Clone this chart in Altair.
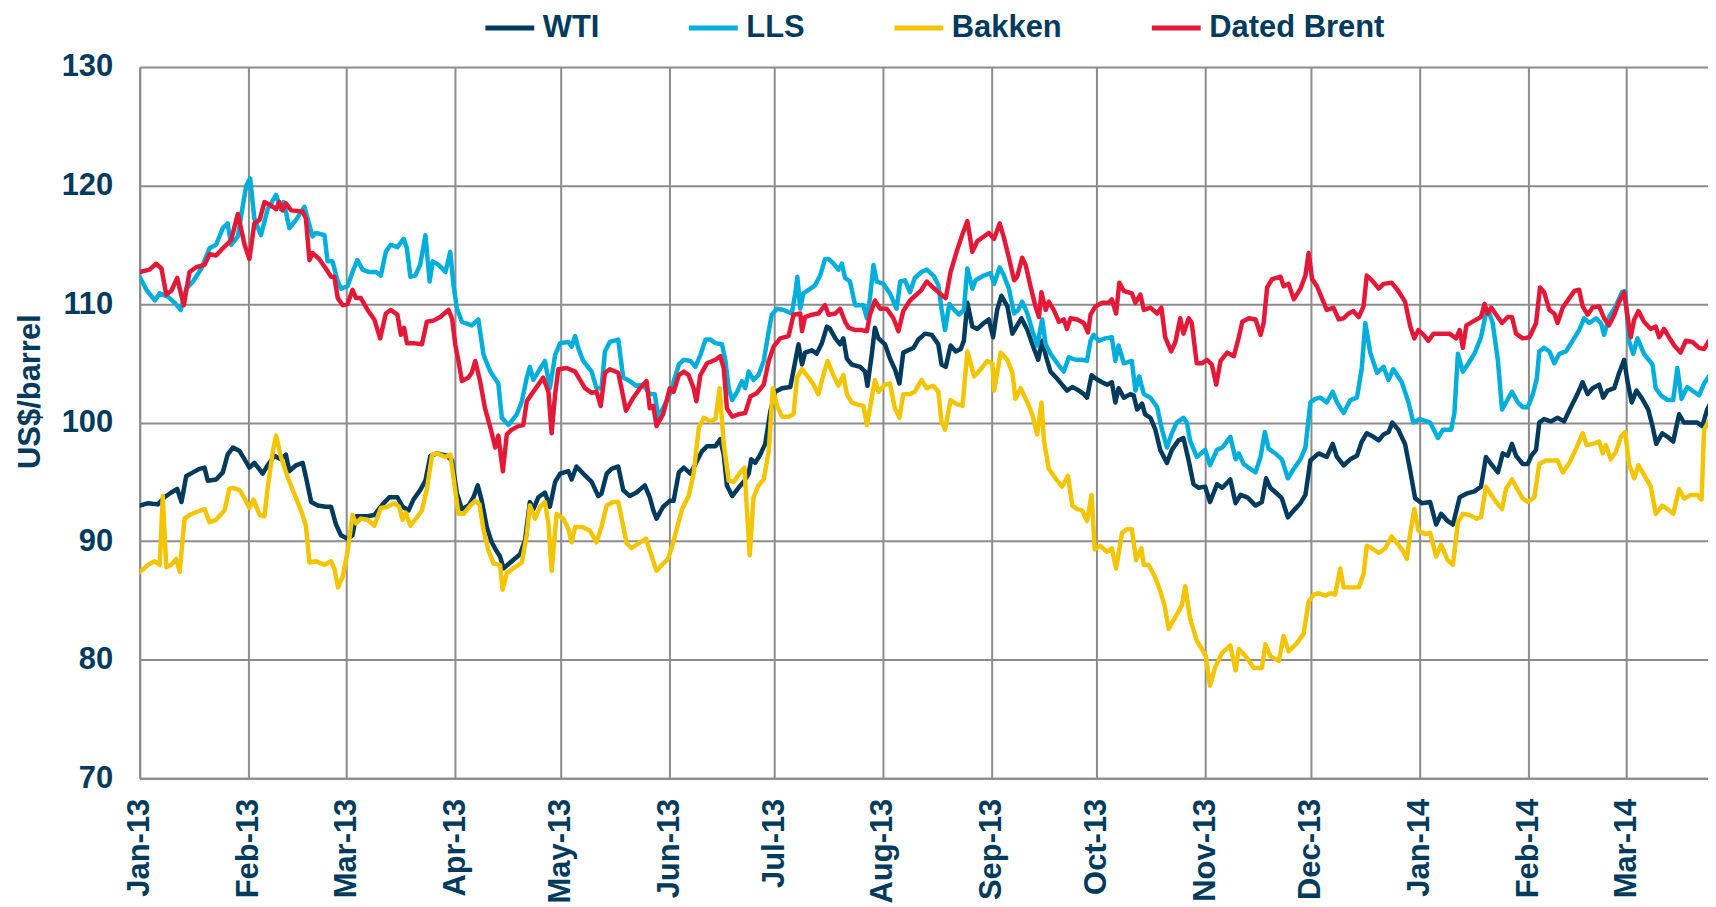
import altair as alt
import pandas as pd

START = pd.Timestamp("2013-01-01")

# day offsets from 1 Jan 2013 and prices (US$/barrel)
wti_day = [0, 2.4, 5.2, 7.1, 9.0, 10.7, 11.9, 13.3, 15.2, 17.1, 18.5, 19.4, 21.8, 23.7, 25.1, 26.6, 28.5, 29.9,
           31.3, 32.7, 35.1, 36.5, 38.4, 40.3, 41.7, 42.7, 44.6, 46.5, 47.4, 48.9, 50.8, 53.1, 54.6, 56.0, 57.4,
           59.3, 60.7, 61.7, 65.0, 66.9, 69.3, 71.2, 73.5, 75.0,
           76.7, 78.1, 80.0, 81.5, 82.9, 84.8, 87.6, 89.1, 90.5, 91.9, 93.8, 95.2, 96.4, 97.6, 99.0, 100.4, 101.9,
           102.8, 103.8, 105.7, 108.5, 109.9, 111.3, 112.3, 113.7, 115.6, 117.0, 118.5, 119.9, 122.3, 123.2, 124.6,
           126.5, 128.9, 130.8, 131.7, 133.2, 134.6, 136.5, 137.9, 139.8, 141.7, 144.1, 145.5, 146.5, 147.4, 149.3,
           151.2,
           152.3, 153.8, 155.2, 157.1, 158.5, 160.4, 161.8, 164.2, 165.6, 166.6, 167.5, 169.0, 170.8, 172.3, 173.7,
           174.4, 175.6, 177.0, 178.4, 179.9, 181.3, 183.2, 185.6, 187.0, 187.9, 188.9, 189.8, 191.7, 193.1, 194.6,
           196.0, 196.9, 198.4, 199.8, 200.7, 201.7, 203.1, 205.5, 206.9, 207.6, 208.8, 209.7, 210.7, 212.6, 214.0,
           215.4, 216.7, 217.8, 219.2, 220.7, 222.1, 224.0, 225.9, 227.8, 228.7,
           229.9, 231.3, 232.8, 234.2, 235.1, 236.1, 237.5, 238.9, 240.8, 242.2, 243.4, 244.6, 245.8, 247.5, 248.9,
           250.3, 251.5, 253.2, 255.0, 256.3, 257.4, 258.6, 259.8, 261.7, 263.1, 264.5, 266.0, 267.9, 269.3, 270.2,
           271.5, 272.8, 274.5, 275.9, 277.3, 278.3, 279.2, 280.7, 282.6, 283.5, 284.5, 285.9, 286.8, 288.3, 289.7,
           291.1, 293.0, 294.4, 296.3, 297.7, 299.2, 300.6, 302.0, 303.9, 305.3,
           307.3, 308.8, 311.1, 312.6, 314.0, 315.9, 318.3, 320.1, 321.3, 322.5, 324.4, 325.8, 327.5, 329.2, 331.1,
           332.5, 333.9, 336.3, 338.6, 340.3, 341.5, 343.4, 345.3, 347.2, 348.6, 350.0, 351.9, 353.4, 354.8, 356.2,
           357.3, 359.0, 360.9, 362.4, 363.8, 365.7, 368.1,
           369.8, 371.2, 373.1, 374.6, 376.5, 378.4, 380.7, 382.6, 384.0, 385.5, 387.4, 388.8, 390.2, 391.4, 392.6,
           394.5, 395.9, 396.9, 398.3, 399.2, 400.6, 402.5, 404.4, 406.3, 408.2, 410.1, 411.6, 413.0, 414.4, 416.3,
           417.4, 418.7, 420.6, 422.0, 423.4, 424.4, 425.6, 426.9, 428.6, 430.3, 431.5, 432.6, 434.3, 435.8, 437.4,
           439.1, 440.5, 442.4, 444.3, 445.7, 447.1, 448.6]
wti_val = [93.0, 93.2, 93.1, 93.7, 94.1, 94.4, 93.3, 95.5, 95.8, 96.1, 96.2, 95.1, 95.2, 95.8, 97.3, 97.9, 97.6, 96.9,
           96.2, 96.6, 95.7, 96.4, 97.2, 96.9, 97.3, 95.9, 96.4, 96.6, 95.4, 93.3, 93.0, 92.9, 92.9, 91.4, 90.5,
           90.2, 90.5, 92.1, 92.1, 92.2, 93.1, 93.7, 93.7, 92.9,
           92.6, 93.5, 94.3, 95.1, 97.2, 97.4, 97.2, 96.8, 94.0, 92.7, 93.0, 93.7, 94.7, 93.4, 91.2, 89.9, 89.1,
           88.7, 87.7, 88.2, 88.9, 90.1, 93.3, 92.7, 93.7, 94.1, 92.9, 95.0, 95.7, 95.9, 95.2, 96.3,
           95.7, 95.0, 93.8, 94.0, 95.7, 96.1, 96.3, 94.3, 93.8, 94.1, 94.7, 93.7, 92.6, 91.9, 92.9,
           93.4,
           93.4, 95.8, 96.2, 95.7, 96.5, 97.6, 98.0, 98.0, 98.6, 97.3, 94.7, 93.8, 94.5, 95.0, 95.7,
           96.9, 96.6, 97.3, 98.2, 101.0, 102.6, 102.9, 103.0, 105.2, 106.6, 104.9, 105.9, 106.1, 105.8, 106.7,
           108.1, 107.9, 107.1, 106.6, 107.1, 105.4, 104.9, 104.7, 104.3, 103.1, 105.7, 108.0, 107.1, 106.6, 105.4,
           104.5, 103.3, 105.9, 106.1, 106.3, 107.0, 107.5, 107.4, 106.6, 104.9,
           104.7, 106.5, 106.0, 106.2, 106.9, 110.1, 108.1, 107.9, 108.4, 108.7, 107.2, 109.5, 110.7, 109.8, 107.5,
           108.2, 108.8, 107.8, 106.3, 105.3, 106.9, 105.5, 104.3, 103.7, 103.2, 102.7, 103.0, 102.7, 102.4, 102.1,
           104.0, 103.7, 103.4, 103.2, 103.4, 101.7, 102.9, 102.1, 102.4, 102.3, 101.1, 101.6, 100.7, 100.4, 99.4,
           97.7, 96.6, 97.7, 98.5, 98.7, 96.8, 94.8, 94.5, 94.6, 93.3,
           94.8, 94.5, 95.2, 93.2, 93.9, 93.7, 93.0, 93.3, 95.3, 94.5, 94.0, 93.6, 92.0, 92.6, 93.2,
           93.9, 96.8, 97.4, 97.1, 98.2, 97.1, 96.4, 96.9, 97.2, 98.4, 99.1, 98.8, 98.5, 99.0, 99.2,
           100.0, 99.4, 98.2, 95.9, 93.6, 93.2, 93.3,
           91.4, 92.3, 91.7, 91.4, 93.7, 94.0, 94.2, 94.6, 97.1, 96.5, 95.8, 97.4, 97.2, 98.2, 97.2,
           96.5, 96.5, 97.2, 97.7, 100.0, 100.3, 100.1, 100.4, 100.1, 101.3, 102.4, 103.4, 102.4, 102.9, 103.2,
           102.1, 102.7, 102.9, 104.2, 105.3, 103.4, 101.7, 102.7, 102.0, 101.1, 99.7, 98.2, 99.1, 98.8, 98.4,
           100.7, 100.0, 100.0, 100.0, 99.7, 101.1, 101.9]

lls_day = [0, 1.9, 4.3, 5.7, 8.1, 10.0, 11.7, 13.3, 15.2, 17.6, 19.9, 21.8, 23.7, 25.1, 26.1, 28.0, 29.4, 30.4,
           31.5, 32.7, 34.6, 36.5, 38.9, 40.3, 41.1, 42.7, 44.6, 47.0, 47.9, 49.3, 50.3, 52.7, 53.6, 55.0, 56.5,
           57.4, 59.3, 60.7, 62.1, 63.6, 65.5, 67.4, 68.8, 70.2, 71.6, 73.5,
           75.3, 76.2, 77.2, 78.6, 80.0, 81.5, 82.7, 83.6, 85.3, 87.2, 88.6, 89.5, 90.5, 91.9, 94.7, 96.6, 98.1,
           100.0, 102.3, 103.3, 105.2, 107.6, 109.0, 110.4, 111.3, 112.3, 113.7, 115.6, 117.0, 118.5, 119.9, 122.3,
           123.2, 124.2, 125.1, 126.5, 128.9, 130.3, 131.7, 132.7, 134.1, 136.5, 137.9, 139.8, 141.7, 143.6, 145.5,
           146.9, 147.9, 149.8, 151.2,
           153.8, 155.2, 157.1, 158.5, 159.9, 161.4, 162.8, 164.2, 166.1, 167.1, 168.0, 169.0, 170.4, 171.8, 172.7,
           173.7, 175.1, 176.5, 178.0, 179.4, 180.3, 181.8, 183.7, 186.0, 187.0, 187.6, 188.4, 189.3, 190.8, 192.7,
           194.1, 195.5, 196.5, 197.9, 199.3, 200.3, 201.2, 202.6, 204.1, 205.5, 206.4, 207.4, 208.3, 209.3, 210.2,
           212.1, 214.0, 215.9, 216.9, 218.3, 219.7, 221.1, 223.0, 224.5, 226.4, 227.8, 228.7,
           229.7, 230.9, 232.3, 233.7, 235.1, 236.1, 237.5, 238.4, 240.8, 242.7, 243.7, 245.3, 246.5, 247.9, 249.4,
           250.6, 251.7, 253.2, 254.6, 256.0, 257.4, 258.4, 259.8, 261.7, 263.6, 265.0, 266.9, 268.8, 270.2, 271.2,
           272.1, 273.5, 275.4, 277.3, 278.3, 279.2, 280.7, 283.0, 284.0, 285.1, 286.4, 288.3, 290.2, 291.6, 293.0,
           294.4, 295.8, 297.7, 298.7, 299.6, 301.5, 303.9, 305.3,
           307.3, 308.8, 311.1, 312.6, 313.5, 314.9, 316.8, 318.3, 319.7, 320.9, 322.0, 323.9, 325.8, 327.5, 329.2,
           331.1, 332.5, 333.9, 335.3, 336.8, 338.6, 340.3, 341.5, 343.4, 345.3, 347.2, 348.6, 349.6, 351.0, 352.9,
           354.8, 356.2, 357.6, 360.0, 361.9, 363.3, 365.2, 368.1,
           370.3, 371.7, 374.1, 375.0, 376.0, 377.4, 378.8, 380.7, 382.6, 384.0, 385.0, 385.9, 387.4, 388.6, 389.9,
           391.4, 393.1, 394.5, 395.9, 397.3, 398.5, 399.2, 400.6, 402.1, 403.5, 404.9, 406.8, 408.7, 410.6, 412.0,
           413.5, 415.4, 416.8, 417.7, 419.1, 421.0, 422.8, 423.7, 424.8, 426.0, 427.2, 429.1, 431.5, 432.4, 433.9,
           435.8, 437.4, 438.6, 439.8, 441.4, 443.3, 444.8, 446.2, 447.6, 448.6]
lls_val = [112.3, 111.2, 110.3, 110.9, 110.6, 110.1, 109.5, 111.3, 111.9, 113.0, 114.7, 115.0, 116.4, 116.8, 115.0,
           115.7, 118.3, 120.0,
           120.6, 117.2, 115.8, 118.0, 119.2, 118.0, 118.6, 116.4, 117.1, 118.2, 117.2, 115.7, 116.0, 115.8, 113.6,
           113.6, 111.9,
           111.3, 111.5, 112.7, 113.7, 112.9, 112.7, 112.7, 112.4, 114.4, 115.0, 114.8,
           115.5, 114.7, 112.3, 112.4, 113.3, 115.8, 111.9, 113.6, 113.3, 112.7, 114.4, 111.6, 109.6, 108.5, 108.2,
           108.7, 105.7,
           104.3, 103.3, 100.4, 99.8, 100.7, 101.8, 103.8, 104.7, 103.6, 104.3, 105.2, 102.9, 105.7, 106.7, 106.8,
           106.4, 107.3, 106.3, 105.2, 104.3, 102.9, 102.9, 106.0, 106.8, 107.0, 103.8, 103.5, 103.1, 103.2, 102.4,
           102.4, 100.4, 101.5, 102.4,
           104.9, 105.3, 105.2, 104.7, 105.7, 107.0, 107.0, 106.7, 106.6, 105.2, 102.9, 101.9, 102.6, 103.5, 102.9,
           104.3, 103.6, 104.0, 105.2, 107.7, 109.1, 109.6, 109.5, 109.2, 110.9, 112.3, 109.6, 110.9, 111.2, 111.6,
           112.4, 113.8, 113.8, 113.4, 112.9, 113.4, 112.2, 111.9, 109.9, 109.9, 109.9, 108.8, 110.5, 113.3, 111.9,
           111.7, 110.9, 109.6, 111.9, 112.0, 111.0, 112.2, 112.7, 112.9, 112.4, 111.6, 109.6,
           107.8, 110.0, 109.5, 109.1, 109.5, 113.0, 111.3, 112.0, 112.4, 112.6, 111.7, 113.1, 112.4, 111.3, 109.2,
           109.5, 110.2, 109.2, 107.8, 106.5, 108.7, 106.6, 105.8, 105.0, 104.3, 105.5, 105.3, 105.3, 105.2, 106.9,
           107.4, 106.9, 107.1, 107.2, 105.2, 106.5, 105.0, 105.2, 102.7, 103.9, 102.4, 102.1, 101.3, 99.4, 97.9,
           99.1, 100.0, 100.4, 100.0, 98.5, 97.1, 97.7, 96.4,
           97.7, 97.9, 98.8, 96.9, 97.4, 96.5, 96.1, 95.8, 97.1, 99.2, 97.8, 97.4, 96.9, 95.3, 96.1,
           96.9, 97.9, 101.7, 102.0, 102.1, 101.7, 102.6, 101.7, 100.8, 101.9, 102.1, 104.6, 108.4, 105.9, 104.2,
           104.7, 103.6, 104.5, 103.4, 101.7, 100.0, 100.3, 100.0,
           98.7, 99.4, 99.4, 100.8, 105.8, 104.3, 104.9, 105.8, 107.2, 109.2, 109.2, 108.4, 105.2, 101.1, 101.8,
           102.6, 101.7, 101.3, 101.3, 102.3, 103.7, 106.0, 106.3, 106.0, 105.0, 105.8, 106.0, 106.9, 107.8, 108.8,
           108.4, 108.8, 108.4, 107.4, 108.9, 109.8, 111.0, 111.1, 106.9, 105.8, 107.1, 105.8, 104.9, 102.9, 102.3,
           101.9, 101.9, 104.6, 102.0, 103.0, 102.6, 102.3, 103.3, 103.9, 104.3]

bakken_day = [0, 2.4, 4.3, 5.7, 6.6, 7.6, 9.0, 10.4, 11.4, 12.8, 14.2, 16.6, 18.5, 19.9, 21.8, 24.2, 25.6, 26.6,
              28.5, 29.9, 31.3, 32.5, 34.2, 35.6, 36.5, 38.0, 38.9, 40.3, 42.2, 44.1, 46.0, 47.4, 48.4, 50.3, 52.7,
              54.6, 55.5, 56.6, 57.9, 59.3, 60.7, 61.7, 63.1, 65.0, 66.9, 68.8, 70.7, 72.6, 74.0, 75.0,
              75.9, 77.2, 79.1, 80.5, 81.9, 83.4, 84.8, 87.2, 88.6, 89.5, 90.9, 92.4, 94.3, 95.7, 96.9, 98.1, 99.5,
              100.9, 102.8, 103.5, 104.7, 106.6, 109.0, 110.4, 111.3, 112.8, 114.2, 115.6, 116.6, 117.5, 118.9,
              120.8, 122.3, 123.2, 124.2, 126.1, 128.4, 130.3, 131.7, 133.2, 135.1, 136.5, 137.4, 138.9, 140.3,
              142.2, 144.4, 145.5, 147.4, 149.3, 150.7, 152.1,
              153.8, 154.7, 156.6, 158.0, 159.5, 160.9, 162.8, 164.2, 165.4, 166.6, 168.0, 169.4, 171.3, 172.5,
              173.2, 174.0, 175.1, 176.5, 178.0, 179.4, 180.6, 181.8, 183.2, 185.1, 186.5, 187.5, 188.9, 190.3,
              192.2, 193.6, 195.0, 196.2, 197.4, 199.3, 200.7, 201.7, 203.1, 205.0, 206.4, 207.4, 208.3, 209.7,
              210.7, 212.6, 214.0, 215.4, 216.7, 217.8, 219.7, 221.1, 223.0, 224.5, 226.4, 227.8, 228.7,
              229.7, 231.3, 232.8, 234.7, 236.1, 238.0, 239.9, 241.8, 243.2, 243.7, 245.6, 247.5, 248.9, 249.8,
              251.3, 253.2, 254.6, 256.0, 257.2, 257.9, 259.3, 261.2, 263.1, 264.8, 266.0, 267.4, 268.8, 270.2,
              271.5, 272.4, 274.0, 275.9, 277.3, 278.5, 280.2, 281.6, 283.0, 284.2, 285.7, 286.4, 287.8, 289.7,
              291.1, 292.3, 293.5, 295.4, 297.3, 298.2, 299.6, 301.5, 303.0, 304.1, 305.3,
              306.8, 308.8, 311.1, 312.6, 313.5, 315.4, 317.8, 320.1, 321.1, 322.5, 324.9, 326.3, 327.7, 330.1,
              332.0, 333.4, 334.9, 336.3, 338.2, 339.6, 341.0, 342.4, 343.4, 345.3, 347.7, 349.1, 350.0, 351.5,
              353.4, 355.3, 357.1, 359.0, 360.5, 361.4, 362.4, 363.6, 364.7, 366.6, 368.1,
              369.8, 371.2, 373.1, 374.6, 376.0, 377.4, 379.3, 381.2, 382.6, 384.0, 385.5, 386.9, 388.6, 389.7,
              391.4, 393.1, 394.5, 395.9, 397.8, 399.2, 401.1, 403.0, 404.4, 405.9, 407.8, 409.7, 411.6, 412.7,
              414.4, 416.3, 417.3, 418.2, 419.6, 421.0, 422.5, 423.7, 424.8, 426.3, 427.5, 429.1, 431.0, 432.4,
              434.3, 435.8, 437.4, 439.1, 440.5, 442.4, 444.3, 445.5, 446.2, 447.6, 448.6]
bakken_val = [87.4, 88.0, 88.3, 88.0, 93.8, 87.8, 88.0, 88.5, 87.4, 91.9, 92.2, 92.5, 92.7, 91.6, 91.8, 92.6, 94.4,
              94.5, 94.3, 93.6, 92.8, 93.5, 92.2, 92.1, 94.5, 97.6, 98.9, 97.1, 95.4, 94.0, 92.6, 91.3, 88.2, 88.3,
              88.0, 88.3, 87.7, 86.1, 87.0, 89.1, 92.2, 91.5, 91.9, 91.8, 91.3, 92.8, 92.9, 93.2, 92.9, 91.8,
              92.4, 91.3, 92.0, 92.6, 94.4, 97.3, 97.4, 97.1, 97.3, 95.4, 92.3, 92.3, 93.0, 93.4, 93.1, 90.9, 89.2,
              88.1, 88.0, 85.9, 87.3, 87.7, 88.2, 90.6, 93.0, 91.9, 92.9, 93.3, 91.5, 87.5, 92.3,
              91.9, 91.0, 89.9, 91.2, 91.2, 90.9, 89.9, 91.2, 93.0, 93.3, 93.3, 92.0, 89.8, 89.4,
              89.8, 90.2, 89.2, 87.5, 88.1, 88.5, 89.8,
              91.7, 92.7, 93.8, 95.7, 99.6, 100.4, 100.1, 100.3, 102.9, 98.2, 95.1, 95.0, 95.8, 96.2,
              92.6, 88.8, 93.7, 94.7, 95.2, 97.6, 102.9, 101.4, 100.5, 100.5, 100.7, 103.8, 104.5, 104.0,
              103.2, 102.4, 104.0, 105.2, 104.3, 103.1, 104.0, 102.4, 101.7, 101.5, 101.4, 99.8, 101.2, 103.6,
              102.6, 103.2, 103.3, 101.2, 100.4, 102.4, 102.4, 102.6, 103.6, 102.9, 103.1, 102.6, 100.1,
              99.4, 101.9, 101.6, 101.4, 106.0, 103.9, 104.5, 105.2, 105.0, 102.7, 105.9, 105.3, 104.2, 102.0,
              102.9, 101.7, 100.7, 99.0, 101.7, 98.5, 96.1, 95.3, 94.6, 95.5, 93.0, 92.7, 92.6, 91.7,
              93.9, 89.3, 89.6, 89.1, 89.4, 87.7, 90.7, 91.0, 91.0, 88.4, 89.4, 88.0, 88.0, 86.9,
              85.8, 84.6, 82.6, 83.6, 84.6, 86.2, 83.5, 81.6, 80.9, 80.3, 77.8,
              79.4, 80.6, 81.2, 79.1, 80.9, 80.3, 79.3, 79.3, 81.3, 80.3, 79.9, 82.0, 80.7, 81.4,
              82.2, 84.9, 85.5, 85.6, 85.4, 85.6, 85.5, 87.7, 86.1, 86.1, 86.1, 87.2, 89.6, 89.4,
              89.0, 89.4, 90.4, 89.7, 89.1, 88.5, 90.7, 92.7, 90.9, 90.6, 90.7,
              88.7, 89.7, 88.4, 88.0, 91.6, 92.3, 92.2, 91.9, 92.0, 94.6, 93.9, 93.3, 92.7, 94.4,
              95.2, 94.3, 93.6, 93.3, 93.7, 96.5, 96.8, 96.8, 96.8, 95.8, 96.6, 97.8, 99.1, 98.1,
              98.2, 98.4, 97.4, 98.1, 96.9, 97.5, 98.8, 99.2, 96.5, 95.3, 96.4, 95.6, 94.6, 92.3,
              93.0, 92.7, 92.3, 94.4, 93.6, 93.9, 93.9, 93.5, 99.4, 100.1, 100.4]

brent_day = [0, 2.8, 4.7, 6.2, 7.6, 9.0, 10.7, 11.4, 12.6, 14.2, 16.1, 18.5, 19.9, 21.8, 23.7, 26.1, 28.0, 29.9,
             31.3, 32.7, 34.2, 35.6, 37.5, 38.9, 39.8, 40.8, 41.7, 43.2, 46.5, 47.4, 48.4, 49.3, 51.2, 53.1, 54.6,
             55.5, 56.5, 57.9, 59.3, 60.7, 61.7, 63.1, 65.0, 66.9, 68.6, 70.2, 71.6, 73.5, 74.5,
             75.4, 76.2, 78.1, 80.5, 81.9, 83.8, 85.7, 88.1, 89.1, 90.0, 90.9, 91.9, 93.8, 94.7, 95.7, 97.1, 98.5,
             100.0, 101.4, 102.3, 103.6, 104.7, 106.1, 108.0, 109.4, 110.4, 111.8, 113.7, 115.1, 116.6, 117.5,
             118.5, 119.4, 121.8, 124.2, 125.6, 127.0, 128.9, 130.3, 131.5, 132.7, 134.1, 136.5, 137.4, 138.7,
             140.8, 142.7, 144.6, 145.5, 146.5, 147.4, 149.3, 151.2, 152.3,
             153.8, 155.2, 156.6, 158.0, 158.8, 159.9, 161.8, 164.2, 165.6, 166.6, 167.5, 169.0, 170.8, 172.7,
             174.2, 176.1, 178.0, 179.4, 180.8, 182.7, 185.1, 186.5, 188.4, 188.9, 189.8, 191.7, 193.6, 195.5,
             196.5, 198.4, 199.8, 201.2, 202.2, 204.1, 206.0, 207.4, 208.3, 209.7, 211.2, 213.1, 215.0, 216.4,
             217.8, 219.7, 221.6, 223.0, 224.5, 225.9, 228.2,
             229.0, 229.9, 231.3, 233.2, 234.7, 236.1, 237.5, 238.9, 240.8, 242.2, 243.7, 245.3, 246.5, 247.9,
             249.4, 250.3, 251.7, 252.7, 254.1, 255.5, 256.5, 257.2, 258.4, 259.3, 260.7, 262.2, 263.6, 264.5,
             265.5, 267.4, 269.3, 270.5, 271.2, 272.6, 274.5, 276.4, 277.3, 278.5, 279.4, 280.7, 283.0, 284.0,
             285.4, 286.4, 288.3, 290.2, 291.4, 292.5, 294.2, 295.4, 296.8, 297.7, 299.2, 300.1, 301.5, 303.0,
             304.4, 305.8,
             307.1, 308.3, 310.2, 312.1, 313.5, 314.5, 316.4, 318.3, 319.7, 320.6, 321.6, 323.0, 325.4, 326.3,
             327.7, 329.2, 331.1, 332.5, 333.4, 334.4, 335.8, 337.2, 338.6, 340.5, 342.0, 343.4, 344.8, 346.2,
             347.7, 349.1, 350.0, 351.5, 353.4, 354.8, 357.1, 359.0, 360.9, 362.4, 363.6, 364.7, 366.2, 367.6,
             369.0,
             370.8, 373.6, 375.5, 376.5, 377.4, 378.4, 380.7, 382.6, 383.6, 384.5, 385.5, 386.9, 388.6, 390.2,
             391.4, 392.6, 394.5, 396.4, 398.3, 399.4, 400.6, 402.1, 403.5, 404.4, 405.9, 407.8, 409.2, 410.6,
             411.6, 413.0, 414.4, 416.3, 417.7, 419.1, 420.6, 422.0, 423.4, 424.4, 425.3, 426.3, 427.5, 429.1,
             431.0, 432.4, 433.4, 434.8, 436.2, 437.7, 439.5, 441.0, 442.9, 444.8, 446.2, 447.6, 448.6]
brent_val = [112.7, 112.9, 113.4, 113.0, 110.8, 111.1, 112.2, 111.3, 109.9, 112.7, 113.1, 113.3, 114.2, 114.1,
             114.7, 115.4, 117.6, 115.0,
             113.8, 116.8, 117.1, 118.6, 118.3, 118.0, 118.6, 117.9, 118.5, 117.9, 117.8, 117.2, 113.7, 114.3,
             113.8, 113.0, 112.3,
             112.3, 110.5, 109.9, 110.0, 111.2, 110.5, 110.5, 109.5, 108.7, 107.1, 109.2, 109.5, 109.1, 107.4,
             108.0, 106.7, 106.7, 106.6, 108.5, 108.6, 108.9, 109.5, 108.8, 106.6, 105.2, 103.5, 103.8, 104.2,
             105.2, 103.5, 101.2,
             99.6, 97.9, 98.9, 95.9, 99.0, 99.4, 99.7, 99.8, 101.8, 102.4, 103.2, 103.8, 102.6, 99.1,
             102.4, 104.5, 104.6, 104.3, 103.6, 102.9, 102.5, 102.6, 101.4, 104.2, 104.5, 104.2, 102.9, 101.0,
             102.1, 102.9, 103.5, 101.2, 101.4, 99.7, 100.7, 102.9, 102.6,
             104.0, 104.3, 104.0, 102.9, 101.8, 104.0, 105.0, 105.3, 105.6, 104.6, 101.2, 100.5, 100.7, 100.8,
             102.2, 102.5, 103.2, 105.2, 106.4, 107.1, 107.3, 109.1, 109.2, 107.7, 108.9, 109.1, 109.2, 109.9,
             109.1, 109.2, 109.6, 108.5, 108.0, 107.8, 107.8, 107.7, 109.1, 110.3, 109.6, 109.6, 108.8, 107.7,
             109.4, 110.3, 110.8, 111.2, 111.9, 111.5, 110.9,
             110.7, 110.5, 112.7, 114.6, 115.9, 117.0, 114.4, 115.3, 115.7, 116.0, 115.5, 116.8, 115.6, 113.9,
             112.0, 112.3, 113.9, 113.3, 111.5, 109.8, 108.9, 111.0, 109.5, 110.2, 109.5, 108.5, 108.7, 107.9,
             108.8, 108.7, 108.4, 107.6, 109.1, 109.8, 110.1, 110.1, 110.4, 109.2, 111.8, 111.1, 110.9, 110.1,
             110.8, 109.5, 109.7, 109.2, 109.7, 107.2, 106.0, 106.8, 108.8, 107.5, 108.8, 108.4, 105.0, 105.0,
             105.3, 104.9,
             103.2, 105.2, 105.9, 105.6, 107.2, 108.5, 108.8, 108.7, 107.4, 108.4, 111.4, 112.1, 112.3, 111.5,
             111.7, 110.4, 111.3, 112.4, 114.3, 112.1, 111.5, 110.5, 109.5, 109.7, 108.7, 108.8, 109.2, 109.4,
             108.9, 109.8, 112.4, 112.0, 111.3, 111.7, 111.8, 111.1, 110.2, 108.1, 107.1, 107.8, 107.4, 106.9,
             107.5,
             107.5, 107.5, 107.1, 107.8, 106.3, 108.2, 108.6, 108.9, 110.0, 109.2, 109.7, 109.1, 108.4, 108.9,
             108.9, 107.5, 107.1, 107.2, 108.4, 111.4, 111.0, 109.5, 109.2, 108.4, 109.7, 110.5, 111.1, 111.2,
             109.8, 109.1, 109.7, 109.8, 108.8, 108.2, 109.1, 110.2, 111.0, 108.9, 107.2, 108.7, 109.4, 108.5,
             107.9, 108.1, 107.2, 107.9, 107.2, 106.5, 105.9, 106.9, 106.8, 106.3, 106.2, 106.9, 106.9]

series_names = ["WTI", "LLS", "Bakken", "Dated Brent"]
series_colors = ["#003A5D", "#00AEDB", "#F2C500", "#E31937"]
navy = "#003A5D"
grid = "#8C8C8C"
font = "Liberation Sans"

frames = []
for name, days, vals in [("WTI", wti_day, wti_val), ("LLS", lls_day, lls_val),
                         ("Bakken", bakken_day, bakken_val), ("Dated Brent", brent_day, brent_val)]:
    dates = [(START + pd.Timedelta(hours=round(d * 24))).strftime("%Y-%m-%dT%H:%M:%SZ") for d in days]
    frames.append(pd.DataFrame({"date": dates, "price": vals, "series": name}))
df = pd.concat(frames, ignore_index=True)

month_ticks = [alt.DateTime(year=2013, month=m, date=1, utc=True) for m in range(1, 13)] + \
              [alt.DateTime(year=2014, month=m, date=1, utc=True) for m in range(1, 4)]

x_enc = alt.X("date:T",
              scale=alt.Scale(type="utc", domain=[alt.DateTime(year=2013, month=1, date=1, utc=True),
                                                   alt.DateTime(year=2014, month=3, date=24, hours=8, utc=True)]),
              axis=alt.Axis(values=month_ticks, format="%b-%y", labelAngle=270, labelPadding=20,
                            labelOverlap=False, labelFlush=False, grid=True),
              title=None)
y_enc = alt.Y("price:Q",
              scale=alt.Scale(domain=[70, 130], nice=False, zero=False),
              axis=alt.Axis(values=list(range(70, 131, 10)), labelPadding=27, labelFlush=False,
                            title="US$/barrel", titleAngle=270, titleX=-109, titleY=325,
                            titleBaseline="middle", titleFontSize=31, titleFont=font,
                            titleFontWeight="bold", titleColor=navy))
color_enc = alt.Color("series:N",
                      scale=alt.Scale(domain=series_names, range=series_colors),
                      legend=alt.Legend(orient="none", legendX=344, legendY=-66, direction="horizontal",
                                        title=None, symbolType="stroke", symbolSize=2401,
                                        symbolStrokeWidth=5, labelFontSize=31, labelFont=font,
                                        labelFontWeight="bold", labelColor=navy, columnPadding=79,
                                        labelOffset=6, padding=0, labelLimit=400))

base = alt.Chart(df).mark_line(strokeWidth=4.5, strokeJoin="round", strokeCap="round", clip=True).encode(
    x=x_enc, y=y_enc, color=color_enc)

layers = [base.transform_filter(alt.datum.series == s) for s in series_names]

chart = alt.layer(*layers).properties(
    width=1572, height=713,
    padding={"left": 132, "top": 58, "right": 0, "bottom": 126},
    autosize=alt.AutoSizeParams(type="none"),
).configure_view(stroke="transparent").configure_axis(
    gridColor=grid, gridWidth=2, domainColor=grid, domainWidth=2,
    ticks=False, tickSize=0,
    labelFont=font, labelFontSize=31, labelFontWeight="bold", labelColor=navy,
)

chart.save("out.html", embed_options={"renderer": "svg", "actions": False})
